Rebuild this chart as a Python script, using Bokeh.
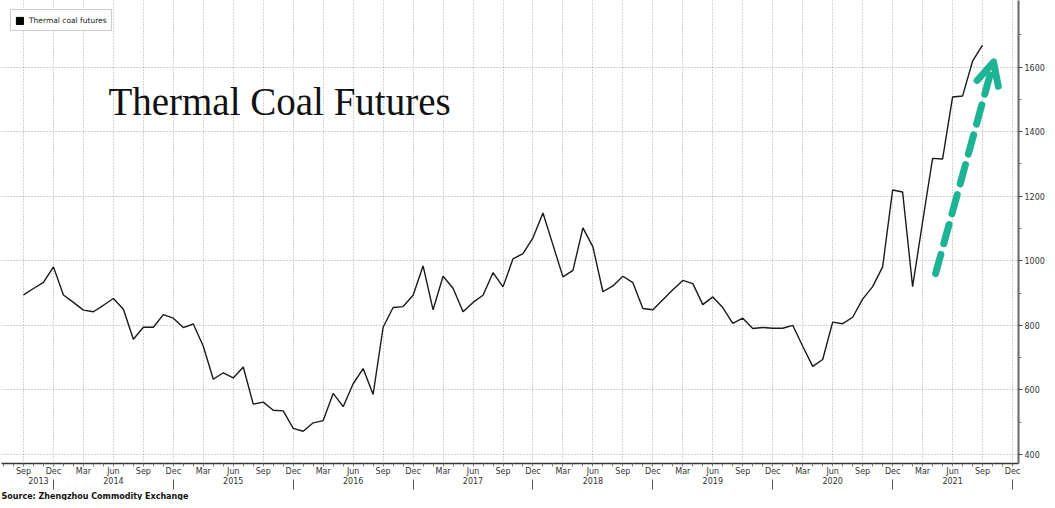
from bokeh.plotting import figure
from bokeh.models import (Range1d, FixedTicker, LinearAxis, Title, Arrow, OpenHead,
                          Label, Legend, LegendItem)
from bokeh.embed import file_html
from bokeh.resources import INLINE

# ---------------- data (monthly, Sep 2013 .. Sep 2021) ----------------
start_year = 2013
start_month = 9  # September
prices = [
    894, 914, 933, 981,                                                    # 2013 Sep-Dec
    894, 871, 847, 842, 862, 883, 850, 757, 794, 794, 833, 822,            # 2014
    793, 804, 735, 633, 653, 637, 671, 556, 562, 537, 535, 481,            # 2015
    472, 498, 505, 589, 548, 619, 666, 586, 794, 855, 858, 893,            # 2016
    984, 848, 952, 915, 842, 871, 893, 963, 919, 1006, 1022, 1071,         # 2017
    1148, 1049, 950, 970, 1102, 1043, 904, 922, 952, 932, 852, 848,        # 2018
    879, 910, 939, 929, 864, 888, 855, 806, 822, 790, 793, 791,            # 2019
    791, 800, 735, 673, 694, 810, 805, 825, 881, 920, 981, 1219,           # 2020
    1213, 920, 1120, 1317, 1315, 1507, 1510, 1618, 1668,                   # 2021 Jan-Sep
]
series_name = "Thermal coal futures"
month_abbr = ["Jan", "Feb", "Mar", "Apr", "May", "Jun",
              "Jul", "Aug", "Sep", "Oct", "Nov", "Dec"]
years = [2013, 2014, 2015, 2016, 2017, 2018, 2019, 2020, 2021]
y_ticks = [400, 600, 800, 1000, 1200, 1400, 1600]
y_minor = [500, 700, 900, 1100, 1300, 1500, 1700]
chart_title = "Thermal Coal Futures"
source_text = "Source: Zhengzhou Commodity Exchange"
# arrow annotation (month index, price)
arrow_start = (91.3, 960)
arrow_end = (97.1, 1615)

# ---------------- derived positions ----------------
nan = float("nan")
t = list(range(len(prices)))                 # month index, 0 = Sep 2013
last_tick = (years[-1] - start_year) * 12 + 3  # Dec of last year
quarter_ticks = list(range(0, last_tick + 1, 3))
dec_pos = [(y - start_year) * 12 + 3 for y in years]
year_centers = [(max(d - 12, 0) + d) / 2 for d in dec_pos]

labels = {q: month_abbr[(start_month - 1 + q) % 12] for q in quarter_ticks}
for c, y in zip(year_centers, years):
    if c in labels:
        labels[c] = labels[c] + "\n" + str(y)
    else:
        labels[c] = "\n" + str(y)
label_ticks = sorted(labels.keys())

FONT = "DejaVu Sans"
TEAL = "#1db394"

p = figure(width=1047, height=500, output_backend="svg", toolbar_location=None,
           x_range=Range1d(-2.2, 99.6), y_range=Range1d(372, 1806),
           y_axis_location="right",
           min_border_left=1, min_border_right=0, min_border_top=0, min_border_bottom=0)
p.outline_line_color = None
p.background_fill_color = "white"

# month + year axis
xa = p.xaxis[0]
xa.ticker = FixedTicker(ticks=label_ticks, minor_ticks=list(range(-2, 100)))
xa.major_label_overrides = labels
xa.major_tick_out = 0
xa.major_tick_in = 0
xa.minor_tick_out = 3
xa.minor_tick_in = 0
xa.axis_line_color = "#333333"
xa.axis_line_width = 1.5
xa.minor_tick_line_color = "#777777"
xa.major_label_text_font = FONT
xa.major_label_text_font_size = "8px"
xa.major_label_text_color = "#333333"
xa.major_label_standoff = 0

# year separators
sep = LinearAxis(ticker=FixedTicker(ticks=dec_pos, minor_ticks=[]),
                 major_label_overrides={d: "" for d in dec_pos},
                 axis_line_color=None, major_tick_line_color="#555555",
                 major_tick_in=10, major_tick_out=0,
                 major_label_standoff=0, major_label_text_font_size="1px")
p.add_layout(sep, "below")

# right value axis
ra = p.yaxis[0]
ra.ticker = FixedTicker(ticks=y_ticks, minor_ticks=y_minor)
ra.major_tick_out = 4
ra.major_tick_in = 0
ra.minor_tick_out = 3
ra.minor_tick_in = 0
ra.axis_line_color = "#666666"
ra.axis_line_width = 2
ra.major_tick_line_color = "#444444"
ra.minor_tick_line_color = "#777777"
ra.major_label_text_font = FONT
ra.major_label_text_font_size = "8px"
ra.major_label_text_color = "#333333"
ra.major_label_standoff = 2

# grids
p.xgrid.ticker = FixedTicker(ticks=quarter_ticks)
p.ygrid.ticker = FixedTicker(ticks=y_ticks)
for g in (p.xgrid[0], p.ygrid[0]):
    g.grid_line_color = "#a8a8a8"
    g.grid_line_dash = "1 2"
    g.grid_line_width = 1

# series
p.line(x=t, y=prices, line_color="#1a1a1a", line_width=1.4)

# legend with filled square glyph
dummy = p.quad(left=[nan], right=[nan], top=[nan], bottom=[nan],
               fill_color="black", line_color="black")
legend = Legend(items=[LegendItem(label=series_name, renderers=[dummy])],
                location="top_left", margin=9, padding=4, spacing=0,
                label_text_font=FONT, label_text_font_size="7.5px",
                label_text_color="#222222", label_height=12, label_standoff=5,
                glyph_width=9, glyph_height=9,
                border_line_color="#999999", border_line_width=1,
                background_fill_alpha=1.0)
p.add_layout(legend)

# title inside chart
p.add_layout(Label(x=8.5, y=1492, text=chart_title, text_font="Liberation Serif",
                   text_font_size="39px", text_color="#111111",
                   text_baseline="alphabetic"))

# teal dashed arrow
p.add_layout(Arrow(end=OpenHead(line_color=TEAL, line_width=7, size=22,
                                line_cap="round", line_join="round"),
                   x_start=arrow_start[0], y_start=arrow_start[1],
                   x_end=arrow_end[0], y_end=arrow_end[1],
                   line_color=TEAL, line_width=7, line_dash="20 11",
                   line_cap="round"))

# source note
p.add_layout(Title(text=source_text, align="left", text_font=FONT,
                   text_font_size="8px", text_font_style="bold",
                   text_color="#111111", standoff=0), "below")

open("out.html", "w").write(file_html(p, INLINE))
